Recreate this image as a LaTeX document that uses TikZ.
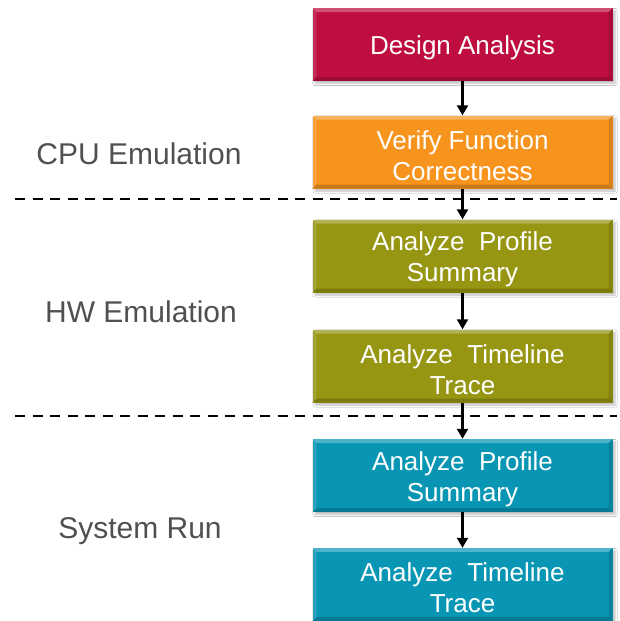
\documentclass[tikz,border=0pt]{standalone}
\usepackage{fontspec}
\setmainfont{Liberation Sans}
\usetikzlibrary{arrows.meta,shadows.blur}
\definecolor{crimson}{RGB}{190,14,64}
\definecolor{orng}{RGB}{247,148,30}
\definecolor{olive}{RGB}{150,150,18}
\definecolor{teal}{RGB}{8,150,180}
\definecolor{labelgray}{RGB}{80,80,80}
\newcommand{\boxtext}[1]{\parbox{290pt}{\vspace*{7pt}\centering\fontsize{26}{31}\selectfont #1}}
\tikzset{
  box/.style={minimum width=300pt, minimum height=73pt, inner sep=0pt,
    text=white,
    blur shadow={shadow xshift=2.5pt, shadow yshift=-2.5pt, shadow blur steps=5, shadow opacity=25},
    path picture={
      \fill[white,opacity=0.28] (path picture bounding box.north west) -- (path picture bounding box.north east)
        -- ([xshift=-4pt,yshift=-4pt]path picture bounding box.north east) -- ([xshift=4pt,yshift=-4pt]path picture bounding box.north west) -- cycle;
      \fill[white,opacity=0.12] (path picture bounding box.north west) -- ([xshift=4pt,yshift=-4pt]path picture bounding box.north west)
        -- ([xshift=4pt,yshift=4pt]path picture bounding box.south west) -- (path picture bounding box.south west) -- cycle;
      \fill[black,opacity=0.18] (path picture bounding box.south west) -- (path picture bounding box.south east)
        -- ([xshift=-4pt,yshift=4pt]path picture bounding box.south east) -- ([xshift=4pt,yshift=4pt]path picture bounding box.south west) -- cycle;
      \fill[black,opacity=0.12] (path picture bounding box.north east) -- ([xshift=-4pt,yshift=-4pt]path picture bounding box.north east)
        -- ([xshift=-4pt,yshift=4pt]path picture bounding box.south east) -- (path picture bounding box.south east) -- cycle;
    }},
  flow/.style={line width=2.2pt, -{Triangle[length=10pt,width=11pt]}},
  sep/.style={line width=2pt, dash pattern=on 10pt off 7.5pt},
  lbl/.style={text=labelgray, font=\fontsize{30}{36}\selectfont, inner sep=0pt}
}
\begin{document}
\begin{tikzpicture}[x=1pt,y=-1pt]
\useasboundingbox (0,0) rectangle (620,621);
\fill[white] (0,0) rectangle (620,621);
% separators
\coordinate (s1a) at (15,199); \coordinate (s1b) at (617,199);
\coordinate (s2a) at (15,416); \coordinate (s2b) at (617,416);
\draw[sep] (s1a) -- (s1b);
\draw[sep] (s2a) -- (s2b);
% boxes
\node[box, fill=crimson] (b1) at (462.5,44.5) {\boxtext{Design Analysis}};
\node[box, fill=orng] (b2) at (462.5,152) {\boxtext{Verify Function\\Correctness}};
\node[box, fill=olive] (b3) at (462.5,256) {\boxtext{Analyze\ \ Profile\\Summary}};
\node[box, fill=olive] (b4) at (462.5,366) {\boxtext{Analyze\ \ Timeline\\Trace}};
\node[box, fill=teal] (b5) at (462.5,475.5) {\boxtext{Analyze\ \ Profile\\Summary}};
\node[box, fill=teal] (b6) at (462.5,584.5) {\boxtext{Analyze\ \ Timeline\\Trace}};
% arrows
\draw[flow] (b1) -- (b2);
\draw[flow] (b2) -- (b3);
\draw[flow] (b3) -- (b4);
\draw[flow] (b4) -- (b5);
\draw[flow] (b5) -- (b6);
% labels
\node[lbl] (l1) at (139,154) {CPU Emulation};
\node[lbl] (l2) at (141,312) {HW Emulation};
\node[lbl] (l3) at (140,531) {System Run};
\end{tikzpicture}
\end{document}
